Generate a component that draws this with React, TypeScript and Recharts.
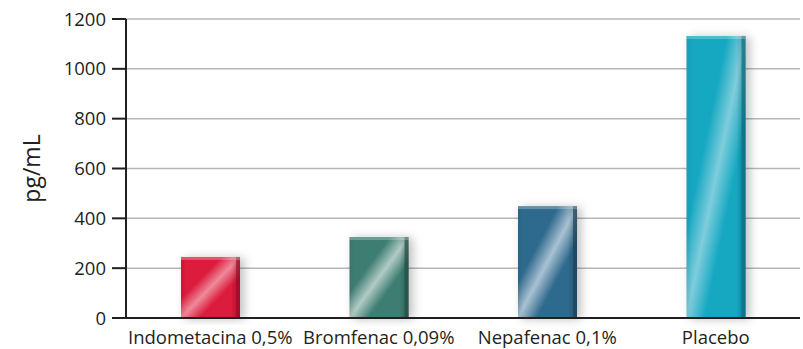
import { BarChart, Bar, XAxis, YAxis, CartesianGrid, Cell } from 'recharts'

const categories = ['Indometacina 0,5%', 'Bromfenac 0,09%', 'Nepafenac 0,1%', 'Placebo']
const values = [245, 325, 449, 1132]
const yTicks = [0, 200, 400, 600, 800, 1000, 1200]
const baseColors = ['#dc1a3c', '#3e7d72', '#2f6a8d', '#13a7c1']
const lightColors = ['#ee8a98', '#b0cbc4', '#a9c1d3', '#7fcddc']
const edgeColors = ['#9e1029', '#24504a', '#1c4560', '#0c6f82']

const data = categories.map((name, i) => ({ name, value: values[i] }))

const font = '"Open Sans", sans-serif'

function GlossBar(props: any) {
  const { x, y, width, height, index } = props
  if (!height || height <= 0) return null
  return (
    <g filter="url(#barShadow)">
      <rect x={x} y={y} width={width} height={height} fill={`url(#gloss${index})`} />
      <rect x={x} y={y} width={width} height={height} fill="url(#edgeShade)" />
      <rect x={x + width - 4} y={y} width={4} height={height} fill={edgeColors[index]} opacity={0.7} />
      <rect x={x} y={y} width={width} height={3} fill="#ffffff" opacity={0.25} />
    </g>
  )
}

export default function App() {
  return (
    <div style={{ position: 'absolute', left: 0, top: 0, background: '#fff' }}>
      <BarChart
        width={803}
        height={349}
        data={data}
        margin={{ top: 19, right: 3, bottom: 1, left: 0 }}
        barCategoryGap="32%"
      >
        <defs>
          {baseColors.map((c, i) => (
            <linearGradient key={i} id={`gloss${i}`} x1="0" y1="0" x2="1" y2="1">
              <stop offset="0%" stopColor={c} />
              <stop offset="34%" stopColor={c} />
              <stop offset="50%" stopColor={lightColors[i]} />
              <stop offset="66%" stopColor={c} />
              <stop offset="100%" stopColor={c} />
            </linearGradient>
          ))}
          <linearGradient id="edgeShade" x1="0" y1="0" x2="1" y2="0">
            <stop offset="0%" stopColor="#000" stopOpacity={0.06} />
            <stop offset="10%" stopColor="#000" stopOpacity={0} />
            <stop offset="85%" stopColor="#000" stopOpacity={0} />
            <stop offset="100%" stopColor="#000" stopOpacity={0.25} />
          </linearGradient>
          <filter id="barShadow" x="-30%" y="-10%" width="160%" height="120%">
            <feDropShadow dx="4" dy="1" stdDeviation="5" floodColor="#000" floodOpacity={0.25} />
          </filter>
        </defs>
        <CartesianGrid vertical={false} stroke="#b7b7b7" strokeWidth={1.5} />
        <XAxis
          dataKey="name"
          height={30}
          tickLine={false}
          axisLine={{ stroke: '#231f20', strokeWidth: 2 }}
          tick={{ fill: '#231f20', fontSize: 18.5, fontFamily: font }}
          interval={0}
          dy={5}
        />
        <YAxis
          width={126}
          domain={[0, 1200]}
          ticks={yTicks}
          tickSize={14}
          tickLine={{ stroke: '#231f20', strokeWidth: 2 }}
          axisLine={{ stroke: '#231f20', strokeWidth: 2 }}
          tick={{ fill: '#231f20', fontSize: 18.5, fontFamily: font }}
          tickMargin={6}
          label={{
            value: 'pg/mL',
            angle: -90,
            position: 'insideLeft',
            offset: 32,
            style: { fill: '#231f20', fontSize: 23, fontFamily: font, textAnchor: 'middle' },
          }}
        />
        <Bar dataKey="value" barSize={59} shape={<GlossBar />} isAnimationActive={false}>
          {data.map((d, i) => (
            <Cell key={d.name} fill={baseColors[i]} />
          ))}
        </Bar>
      </BarChart>
    </div>
  )
}
